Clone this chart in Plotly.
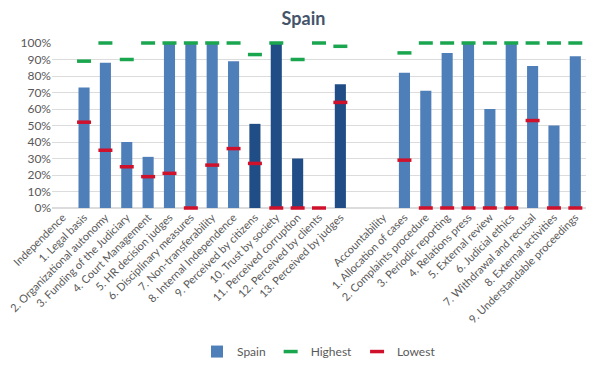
import plotly.graph_objects as go

categories = [
    "Independence", "1. Legal basis", "2. Organizational autonomy",
    "3. Funding of the Judiciary", "4. Court Management", "5. HR decision judges",
    "6. Disciplinary measures", "7. Non-transferability", "8. Internal Independence",
    "9. Perceived by citizens", "10. Trust by society", "11. Perceived corruption",
    "12. Perceived by clients", "13. Perceived by judges", " ",
    "Accountability", "1. Allocation of cases", "2. Complaints procedure",
    "3. Periodic reporting", "4. Relations press", "5. External review",
    "6. Judicial ethics", "7. Withdrawal and recusal", "8. External activities",
    "9. Understandable proceedings",
]
spain = [None, 0.73, 0.88, 0.40, 0.31, 1.00, 1.00, 1.00, 0.89, 0.51, 1.00, 0.30, None, 0.75,
         None, None, 0.82, 0.71, 0.94, 1.00, 0.60, 1.00, 0.86, 0.50, 0.92]
highest = [None, 0.89, 1.00, 0.90, 1.00, 1.00, 1.00, 1.00, 1.00, 0.93, 1.00, 0.90, 1.00, 0.98,
           None, None, 0.94, 1.00, 1.00, 1.00, 1.00, 1.00, 1.00, 1.00, 1.00]
lowest = [None, 0.52, 0.35, 0.25, 0.19, 0.21, 0.00, 0.26, 0.36, 0.27, 0.00, 0.00, 0.00, 0.64,
          None, None, 0.29, 0.00, 0.00, 0.00, 0.00, 0.00, 0.53, 0.00, 0.00]
perception_items = {"9. Perceived by citizens", "10. Trust by society",
                    "11. Perceived corruption", "12. Perceived by clients",
                    "13. Perceived by judges"}

LIGHT = "#4f7fb9"
DARK = "#214d86"
bar_colors = [DARK if c in perception_items else LIGHT for c in categories]

FONT = "Lato, 'Open Sans', sans-serif"
GRAY = "#595959"

fig = go.Figure()
fig.add_trace(go.Bar(
    x=categories, y=spain, name="Spain",
    marker=dict(color=bar_colors, line=dict(width=0)),
))
fig.add_trace(go.Scatter(
    x=categories, y=highest, name="Highest", mode="markers", cliponaxis=False,
    marker=dict(symbol="line-ew", size=10, line=dict(color="#1aa54f", width=3.5)),
))
fig.add_trace(go.Scatter(
    x=categories, y=lowest, name="Lowest", mode="markers", cliponaxis=False,
    marker=dict(symbol="line-ew", size=10, line=dict(color="#d0112b", width=3.5)),
))

# page body has an 8px margin, so the figure is sized to fit the 599x378 window
fig.update_layout(
    width=591, height=370,
    margin=dict(l=44, r=13, t=35, b=165),
    paper_bgcolor="white", plot_bgcolor="white",
    bargap=0.48,
    title=dict(text="<b>Spain</b>", x=0.5, xanchor="center", y=0.972, yanchor="middle",
               font=dict(family=FONT, size=18, color="#44546a")),
    font=dict(family=FONT, size=12, color=GRAY),
    showlegend=True,
    legend=dict(orientation="h", x=0.5, xanchor="center", y=-0.87, yanchor="middle",
                font=dict(family=FONT, size=12, color=GRAY), itemwidth=30,
                traceorder="normal"),
    xaxis=dict(type="category", categoryorder="array", categoryarray=categories,
               range=[-0.5, len(categories) - 0.5],
               tickangle=-45, showgrid=False, showline=False, ticks="", automargin=False,
               tickfont=dict(family=FONT, size=11, color=GRAY)),
    yaxis=dict(range=[0, 1.0], tickformat=".0%", dtick=0.1, showgrid=True,
               gridcolor="#dcdcdc", gridwidth=1, zeroline=True, zerolinecolor="#dcdcdc",
               showline=False, ticks="", automargin=False,
               tickfont=dict(family=FONT, size=12, color=GRAY)),
)

fig.write_html("out.html")
